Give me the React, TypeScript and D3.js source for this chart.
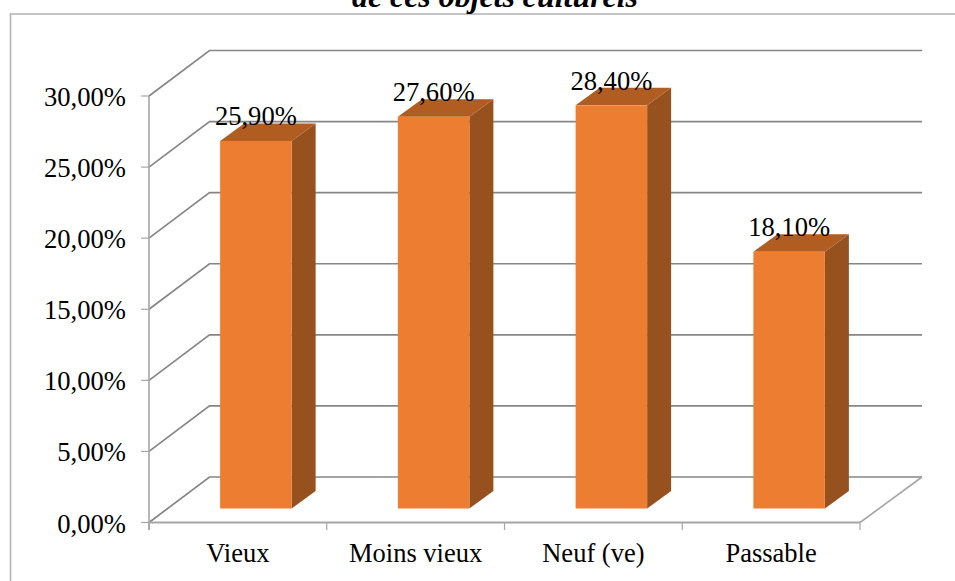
import React from "react";
import * as d3 from "d3";

const categories = ["Vieux", "Moins vieux", "Neuf (ve)", "Passable"];
const values = [25.9, 27.6, 28.4, 18.1];
const valueLabels = ["25,90%", "27,60%", "28,40%", "18,10%"];
const yTicks = [0, 5, 10, 15, 20, 25, 30];
const yTickLabels = ["0,00%", "5,00%", "10,00%", "15,00%", "20,00%", "25,00%", "30,00%"];
const titleText = "de ces objets culturels";

const W = 955, H = 581;
const y = d3.scaleLinear().domain([0, 30]).range([522.5, 96]);
const x = d3.scaleBand<string>().domain(categories).range([149, 860]);
const wallDx = 60.5, wallDy = -45.5;
const barDx = 24, barDy = -17.5, barW = 71.5, barInsetY = -14;
const font = "'Liberation Serif','Times New Roman',serif";
const gridC = "#868686", axisC = "#a6a6a6";
const line = d3.line();

export default function App() {
  return (
    <svg width={W} height={H} style={{ position: "absolute", left: 0, top: 0 }} fontFamily={font}>
      <rect x={0} y={0} width={W} height={H} fill="#fff" />
      <path d={`M10.5 ${H + 2}V14H${W + 2}`} fill="none" stroke="#b3b3b3" strokeWidth={1.6} />
      <text x={495} y={7} textAnchor="middle" fontSize={31.9} fontWeight="bold" fontStyle="italic" fill="#000">{titleText}</text>

      {yTicks.map((t) => (
        <g key={t}>
          <path d={line([[149, y(t)], [149 + wallDx, y(t) + wallDy], [922, y(t) + wallDy]])!} fill="none" stroke={gridC} strokeWidth={1.7} />
          <line x1={141} x2={149} y1={y(t)} y2={y(t)} stroke={axisC} strokeWidth={1.2} />
          <text x={126} y={y(t) + 10} textAnchor="end" fontSize={26.6} fill="#000">{yTickLabels[t / 5]}</text>
        </g>
      ))}
      <path d={line([[860, y(0)], [922, y(0) + wallDy]])!} fill="none" stroke={axisC} strokeWidth={1.6} />
      <line x1={149} x2={149} y1={y(30)} y2={530} stroke={axisC} strokeWidth={1.6} />
      <line x1={149} x2={860} y1={y(0)} y2={y(0)} stroke={axisC} strokeWidth={1.8} />
      {[...categories.map((c) => x(c)!), 860].map((tx) => (
        <line key={tx} x1={tx} x2={tx} y1={y(0)} y2={530} stroke={axisC} strokeWidth={1.2} />
      ))}

      {categories.map((c, i) => {
        const x0 = x(c)! + (x.bandwidth() - barW) / 2 + 18;
        const x1 = x0 + barW;
        const bottom = y(0) + barInsetY;
        const top = y(values[i]) + barInsetY + 0.6;
        const side: [number, number][] = [[x1, top], [x1 + barDx, top + barDy], [x1 + barDx, bottom + barDy], [x1, bottom]];
        const lid: [number, number][] = [[x0, top], [x0 + barDx, top + barDy], [x1 + barDx, top + barDy], [x1, top]];
        return (
          <g key={c}>
            <path d={line(side)! + "Z"} fill="#96511e" />
            <path d={line(lid)! + "Z"} fill="#b15d22" />
            <rect x={x0} y={top} width={barW} height={bottom - top} fill="#ed7d31" />
          </g>
        );
      })}

      {categories.map((c, i) => {
        const x0 = x(c)! + (x.bandwidth() - barW) / 2 + 18;
        return (
          <text key={c} x={x0 + barW / 2} y={y(values[i]) + barInsetY - 15} textAnchor="middle" fontSize={26.6} fill="#000">{valueLabels[i]}</text>
        );
      })}

      {categories.map((c) => (
        <text key={c} x={x(c)! + x.bandwidth() / 2} y={562} textAnchor="middle" fontSize={26.5} fill="#000">{c}</text>
      ))}
    </svg>
  );
}
